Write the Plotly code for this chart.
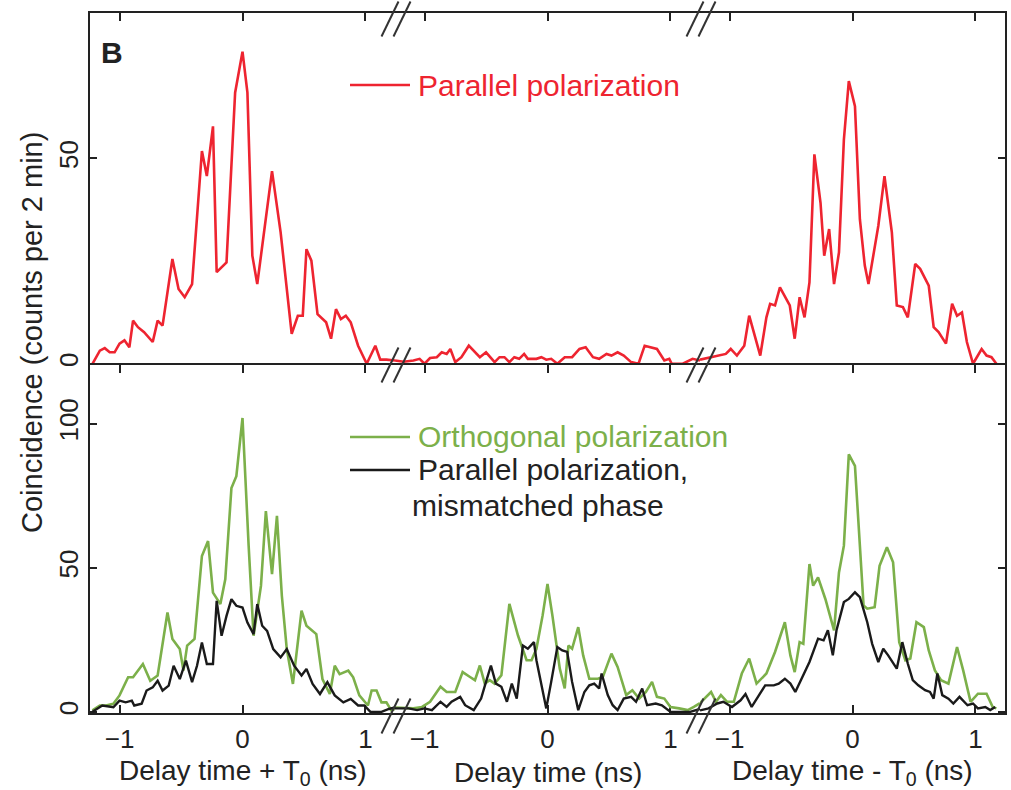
import plotly.graph_objects as go
from plotly.subplots import make_subplots

# ---------------- data ----------------
# Top panel: parallel polarization (red)
par_plus_x = [-1.22,-1.16,-1.12,-1.08,-1.04,-1.00,-0.96,-0.92,-0.89,-0.85,-0.80,-0.73,-0.69,-0.65,-0.57,-0.52,-0.47,-0.41,-0.33,-0.29,-0.24,-0.21,-0.13,-0.06,0.00,0.04,0.08,0.12,0.24,0.31,0.40,0.45,0.49,0.52,0.56,0.61,0.68,0.72,0.76,0.80,0.84,0.88,0.94,1.01,1.08,1.12,1.17,1.24]
par_plus_y = [0,3.2,3.8,2.8,2.8,4.9,5.7,4.0,10.5,8.9,7.7,5.3,10.5,9.3,25.5,18.2,16.2,19.4,51.8,45.7,57.8,22.3,24.7,66,76,66,26.3,19.4,46.9,32,7.3,11.7,11.7,27.9,25.1,12.1,10.1,6.1,13.3,10.9,11.7,10.1,4.4,0,4.4,1,1,0.8]

par_mid_x = [-1.24,-1.17,-1.09,-1.04,-1.00,-0.955,-0.90,-0.86,-0.82,-0.79,-0.75,-0.70,-0.64,-0.59,-0.55,-0.50,-0.43,-0.39,-0.35,-0.31,-0.27,-0.23,-0.19,-0.16,-0.09,-0.05,-0.01,0.03,0.08,0.14,0.20,0.26,0.31,0.37,0.42,0.48,0.52,0.57,0.62,0.68,0.74,0.79,0.85,0.89,0.95,0.99,1.01,1.10,1.18,1.24]
par_mid_y = [0.8,0.5,0.8,1.2,0,1.4,1.6,2.8,2.4,3.6,0.4,1.6,4.4,2.8,1.6,2.8,0.4,1.6,1.6,0.4,1.6,1.2,2.4,1.2,1.2,1.6,1.0,1.2,0,1.6,1.6,3.6,4.0,1.6,1.2,2.4,2.0,2.8,2.0,0.4,0,4.4,4.0,3.6,0.8,1.2,0,0,1.2,0.8]

par_minus_x = [-1.24,-1.14,-1.09,-1.03,-0.99,-0.94,-0.88,-0.84,-0.75,-0.70,-0.67,-0.63,-0.59,-0.55,-0.51,-0.47,-0.43,-0.39,-0.35,-0.31,-0.26,-0.23,-0.19,-0.15,-0.11,-0.07,-0.03,0.02,0.06,0.10,0.13,0.21,0.26,0.32,0.36,0.41,0.45,0.51,0.55,0.62,0.66,0.70,0.76,0.81,0.85,0.89,0.93,0.98,1.05,1.09,1.13,1.17]
par_minus_y = [1.0,1.6,2.0,2.4,3.6,2.0,4.4,11.7,2.0,11.3,14.6,14.2,18.6,16.2,14.2,6.1,16.2,11.3,19.8,51,39.2,26.3,32.8,19.4,27.1,54.6,68.8,62.7,35.2,23.9,19.4,33.6,45.7,32,14.2,13.8,11.3,24.3,23.1,19.0,8.9,7.7,4.9,14.6,11.7,12.5,5.3,0,3.6,2.0,1.6,0]

# Bottom panel: orthogonal polarization (green)
orth_plus_x = [-1.22,-1.16,-1.11,-1.05,-1.0,-0.93,-0.89,-0.81,-0.75,-0.69,-0.61,-0.57,-0.51,-0.48,-0.45,-0.39,-0.33,-0.28,-0.24,-0.18,-0.14,-0.09,-0.05,0.0,0.05,0.09,0.15,0.19,0.24,0.28,0.32,0.36,0.41,0.48,0.52,0.60,0.65,0.71,0.75,0.79,0.86,0.90,0.95,1.02,1.05,1.09,1.13,1.17,1.21,1.24]
orth_plus_y = [0.5,2.2,2.2,2.8,5.7,12,12,16.6,10.8,12.6,34.5,25.3,21.8,14.3,23,25.3,54.1,59.3,41.4,37.4,46,77.7,81.8,102,57.6,26.4,43.7,69.7,47.8,68,40.3,21.8,9.7,35.1,29.9,27,11.4,6.2,16,13.1,14.3,12,5.7,2.2,7.4,7.4,3.3,3.3,0.5,1.0]

orth_mid_x = [-1.24,-1.09,-1.02,-0.955,-0.87,-0.82,-0.75,-0.69,-0.63,-0.59,-0.55,-0.51,-0.47,-0.43,-0.375,-0.31,-0.24,-0.17,-0.13,-0.09,-0.04,0.0,0.04,0.10,0.14,0.17,0.20,0.25,0.29,0.34,0.41,0.45,0.52,0.57,0.64,0.69,0.745,0.80,0.85,0.89,0.95,1.0,1.07,1.14,1.19,1.24]
orth_mid_y = [1.5,1.2,1.7,3.5,8.7,6.9,6.9,13.8,12.1,11,16.1,9.8,11,9.8,12.7,37.5,26.5,17.9,17.9,21.9,33.4,44.4,33.4,15,8.1,23,21.9,29.4,19.6,11.5,11.5,12.1,20.2,15.6,5.8,7.5,4.6,6.9,10.4,5.2,4.6,1.7,1.2,0.6,1.7,3.0]

orth_minus_x = [-1.24,-1.15,-1.11,-1.07,-1.02,-0.965,-0.90,-0.84,-0.78,-0.70,-0.63,-0.55,-0.505,-0.47,-0.43,-0.40,-0.35,-0.32,-0.28,-0.22,-0.15,-0.11,-0.07,-0.03,0.02,0.06,0.09,0.12,0.18,0.22,0.28,0.33,0.38,0.43,0.47,0.52,0.58,0.62,0.67,0.72,0.78,0.85,0.90,0.96,1.02,1.09,1.14,1.17]
orth_minus_y = [3.0,6.9,3.5,5.8,3.5,3.5,13.3,18.5,9.8,13.3,20.8,31.1,19.6,13.8,24.2,23.6,51.3,43.8,46.7,39.1,28.3,48.4,57.7,89.4,85.4,57.7,36.9,35.8,36.3,50.7,57.1,51.9,24.2,17.9,18.5,31.1,29.4,21.3,14.4,11,9.8,22.5,14.4,3.5,6.3,6.3,1.7,1.2]

# Bottom panel: parallel polarization, mismatched phase (black)
mis_plus_x = [-1.22,-1.14,-1.05,-1.0,-0.95,-0.90,-0.88,-0.82,-0.78,-0.73,-0.69,-0.65,-0.60,-0.56,-0.51,-0.46,-0.41,-0.37,-0.33,-0.29,-0.24,-0.21,-0.17,-0.13,-0.09,-0.05,0.0,0.04,0.09,0.12,0.16,0.20,0.25,0.31,0.36,0.42,0.48,0.52,0.57,0.63,0.69,0.75,0.82,0.88,0.94,0.99,1.04,1.13,1.19,1.24]
mis_plus_y = [0,2.2,1.6,3.9,3.3,3.9,2.2,2.8,7.4,8.5,10.8,7.4,9.1,16,11.4,17.8,10.3,16,24.1,16.6,16.6,38.5,26.4,33.3,39.1,36.8,36.2,31,27,37.4,29.9,28.1,21.8,18.9,21.8,16,12.6,14.9,9.7,6.2,10.3,5.7,3.3,4.5,2.2,2.2,0,0,1.0,1.5]

mis_mid_x = [-1.24,-1.13,-1.06,-1.0,-0.94,-0.87,-0.82,-0.78,-0.71,-0.67,-0.60,-0.54,-0.50,-0.46,-0.42,-0.375,-0.33,-0.29,-0.25,-0.20,-0.16,-0.11,-0.09,-0.05,-0.01,0.03,0.08,0.12,0.16,0.20,0.25,0.30,0.34,0.38,0.42,0.44,0.49,0.53,0.57,0.62,0.68,0.72,0.77,0.81,0.88,0.93,1.0,1.08,1.16,1.24]
mis_mid_y = [1.2,1.2,0.6,1.2,0.6,3.5,1.7,3.5,5.2,2.3,0.6,4.6,10.4,16.1,9.8,8.7,3.5,9.8,4.6,23,21.9,24.2,17.9,9.8,1.2,10.4,22.5,21.3,20.8,10.4,0.6,6.9,9.2,9.8,8.1,13.3,5.8,2.3,0.6,4.6,5.2,3.5,8.1,2.3,2.9,2.3,0,0,0,1.0]

mis_minus_x = [-1.24,-1.17,-1.10,-1.05,-0.98,-0.91,-0.87,-0.82,-0.76,-0.71,-0.64,-0.60,-0.55,-0.505,-0.465,-0.41,-0.35,-0.28,-0.235,-0.20,-0.16,-0.13,-0.07,-0.03,0.02,0.06,0.12,0.16,0.21,0.25,0.29,0.36,0.405,0.45,0.49,0.535,0.59,0.63,0.66,0.69,0.73,0.78,0.82,0.87,0.935,0.98,1.02,1.08,1.12,1.16]
mis_minus_y = [0.5,1.2,2.9,3.5,1.7,4,6.2,1.7,5.8,9.2,9.2,9.8,11.5,9.8,6.9,12.1,17.3,25.4,24.8,28.3,19.6,28.3,38.1,39.2,41.5,39.8,31.1,23.6,17.3,21.9,19.6,15,24.2,16.7,11,9.2,7.5,6.9,4.6,13.3,5.8,4.6,2.9,5.2,2.3,2.9,1.2,1.7,0.6,1.7]

x_ticks = [-1, 0, 1]
top_y_ticks = [0, 50]
bottom_y_ticks = [0, 50, 100]
x_titles = ["Delay time + T<sub>0</sub> (ns)", "Delay time (ns)", "Delay time - T<sub>0</sub> (ns)"]
y_title = "Coincidence (counts per 2 min)"
legend_top = ["Parallel polarization"]
legend_bottom = ["Orthogonal polarization", "Parallel polarization,", "mismatched phase"]

# ---------------- styling ----------------
RED = "#ee2430"
GREEN = "#7cb04a"
BLACK = "#1a1a1a"
AX = "#222222"
FONT = "Liberation Sans, Arial, Helvetica, sans-serif"
W, H = 1011, 790
ML, MR, MT, MB = 90, 6, 13, 77
PW, PH = W - ML - MR, H - MT - MB

def px(x):
    return (x - ML) / PW

def py(y):
    return (H - MB - y) / PH

fig = make_subplots(rows=2, cols=3, horizontal_spacing=0, vertical_spacing=0,
                    row_heights=[352, 348])

top = [(par_plus_x, par_plus_y), (par_mid_x, par_mid_y), (par_minus_x, par_minus_y)]
green = [(orth_plus_x, orth_plus_y), (orth_mid_x, orth_mid_y), (orth_minus_x, orth_minus_y)]
black = [(mis_plus_x, mis_plus_y), (mis_mid_x, mis_mid_y), (mis_minus_x, mis_minus_y)]

for c in range(3):
    fig.add_trace(go.Scatter(x=top[c][0], y=top[c][1], mode="lines",
                             line=dict(color=RED, width=2.6), showlegend=False), row=1, col=c + 1)
    fig.add_trace(go.Scatter(x=green[c][0], y=green[c][1], mode="lines",
                             line=dict(color=GREEN, width=2.6), showlegend=False), row=2, col=c + 1)
    fig.add_trace(go.Scatter(x=black[c][0], y=black[c][1], mode="lines",
                             line=dict(color=BLACK, width=2.4), showlegend=False), row=2, col=c + 1)

fig.update_xaxes(range=[-1.24, 1.24], tickvals=x_ticks, ticks="inside", ticklen=8, tickwidth=1.5,
                 tickcolor=AX, showline=True, linecolor=AX, linewidth=1.5,
                 showgrid=False, zeroline=False, layer="below traces",
                 tickfont=dict(family=FONT, size=26, color="#222"))
# top row: only the top frame line (ticks pointing down)
fig.update_xaxes(showticklabels=False, side="top", mirror=False, row=1)
# bottom row: middle separator line and bottom line, both with inward ticks
fig.update_xaxes(showticklabels=True, mirror="ticks", ticklabelstandoff=2, row=2)

yax_common = dict(ticks="inside", ticklen=7, tickwidth=1.5, tickcolor=AX, showline=True,
                  linecolor=AX, linewidth=1.5, showgrid=False, zeroline=False,
                  layer="below traces", tickangle=-90,
                  tickfont=dict(family=FONT, size=26, color="#222"))
fig.update_yaxes(range=[-0.3, 85.4], tickvals=top_y_ticks, row=1)
fig.update_yaxes(range=[-0.4, 120.4], tickvals=bottom_y_ticks, row=2)
for r in (1, 2):
    fig.update_yaxes(**yax_common, row=r, col=1)
    fig.update_yaxes(visible=False, row=r, col=2)
    fig.update_yaxes(**yax_common, side="right", showticklabels=False, row=r, col=3)

# axis-break marks "//"
shapes = []
for bx in (396, 701):
    for cy in (19, 365, 716):
        for off in (-6, 6):
            cx = bx + off
            shapes.append(dict(type="line", xref="paper", yref="paper",
                               x0=px(cx - 8.5), y0=py(cy + 17.5), x1=px(cx + 8.5), y1=py(cy - 17.5),
                               line=dict(color="#333333", width=2)))
# legend line samples
for (y, col) in ((85, RED), (437, GREEN), (470, BLACK)):
    shapes.append(dict(type="line", xref="paper", yref="paper",
                       x0=px(350), x1=px(410), y0=py(y), y1=py(y),
                       line=dict(color=col, width=2.4)))

annotations = []
for c, t in enumerate(x_titles):
    annotations.append(dict(text=t, xref="paper", yref="paper", x=(c + 0.5) / 3, y=py(772),
                            xanchor="center", yanchor="middle", showarrow=False,
                            font=dict(family=FONT, size=28, color="#222")))
annotations.append(dict(text=y_title, xref="paper", yref="paper", x=px(32), y=py(333),
                        xanchor="center", yanchor="middle", textangle=-90, showarrow=False,
                        font=dict(family=FONT, size=29, color="#222")))
annotations.append(dict(text="<b>B</b>", xref="paper", yref="paper", x=px(112), y=py(52),
                        xanchor="center", yanchor="middle", showarrow=False,
                        font=dict(family=FONT, size=30, color="#222")))
annotations.append(dict(text=legend_top[0], xref="paper", yref="paper", x=px(416), y=py(85),
                        xanchor="left", yanchor="middle", showarrow=False,
                        font=dict(family=FONT, size=30, color=RED)))
leg_pos = [(416, 436, GREEN), (416, 470, "#222"), (410, 505, "#222")]
for t, (lx, ly, col) in zip(legend_bottom, leg_pos):
    annotations.append(dict(text=t, xref="paper", yref="paper", x=px(lx), y=py(ly),
                            xanchor="left", yanchor="middle", showarrow=False,
                            font=dict(family=FONT, size=30, color=col)))

fig.update_layout(width=W, height=H, margin=dict(l=ML, r=MR, t=MT, b=MB, autoexpand=False),
                  plot_bgcolor="white", paper_bgcolor="white",
                  shapes=shapes, annotations=annotations, font=dict(family=FONT))

fig.write_html("out.html")
